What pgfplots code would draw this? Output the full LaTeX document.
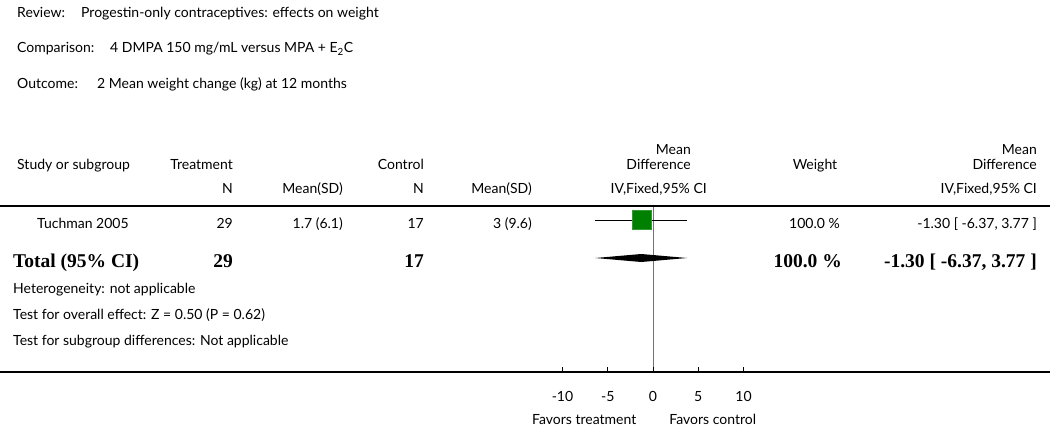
\documentclass[border=0pt]{standalone}
\usepackage{fontspec}
\setmainfont{Lato}
\newfontfamily\boldserif{Liberation Serif}
\usepackage{pgfplots}
\pgfplotsset{compat=1.18}
\definecolor{boxgreen}{RGB}{0,128,0}

\begin{document}
\begin{tikzpicture}[
  every node/.style={font=\fontsize{14}{16}\selectfont, inner sep=0pt},
  tot/.style={font=\boldserif\bfseries\fontsize{19.5}{22}\selectfont},
]
\begin{axis}[
  name=ax,
  scale only axis,
  width=1050pt, height=426pt,
  xmin=-72.155, xmax=43.87,
  ymin=0, ymax=426,
  y dir=reverse,
  axis lines=none,
  clip=false,
]
% line of no effect
\draw[black!55, line width=0.8pt] (0,206) -- (0,372);
% Tuchman 2005
\addplot[black, line width=0.8pt] coordinates {(-6.37,220) (3.77,220)};
\addplot[only marks, mark=square*, mark size=9.5pt,
  mark options={fill=boxgreen, draw=boxgreen!80!white}] coordinates {(-1.30,220)};
\addplot[black, line width=0.5pt] coordinates {(-1.30,217.5) (-1.30,222.5)};
% pooled estimate
\addplot[fill=black, draw=none] coordinates {(-6.37,258) (-1.30,254) (3.77,258) (-1.30,262)} -- cycle;
% rules and scale
\draw[line width=2.6pt] (-72.155,206) -- (43.87,206);
\draw[line width=2.6pt] (-72.155,372) -- (43.87,372);
\pgfplotsinvokeforeach{-10,-5,0,5,10}{
  \draw[line width=1pt] (#1,372) -- (#1,367);
  \node[anchor=base] at (#1,401) {#1};
}
\node[anchor=base] at (-7.6,424) {Favors treatment};
\node[anchor=base] at (6.6,424) {Favors control};
\end{axis}

\begin{scope}[shift={(ax.north west)}, x=1pt, y=-1pt]
% header block
\node[anchor=base west] at (17,18) {Review:};
\node[anchor=base west] at (81,18) {Progestin-only contraceptives: effects on weight};
\node[anchor=base west] at (17,53) {Comparison:};
\node[anchor=base west] at (110,53) {4 DMPA 150 mg/mL versus MPA + E\textsubscript{2}C};
\node[anchor=base west] at (17,89) {Outcome:};
\node[anchor=base west] at (97,89) {2 Mean weight change (kg) at 12 months};
% column heads
\node[anchor=base east] at (691,155) {Mean};
\node[anchor=base east] at (1037,155) {Mean};
\node[anchor=base west] at (17,170) {Study or subgroup};
\node[anchor=base east] at (233,170) {Treatment};
\node[anchor=base east] at (424,170) {Control};
\node[anchor=base east] at (691,170) {Difference};
\node[anchor=base] at (815,170) {Weight};
\node[anchor=base east] at (1037,170) {Difference};
\node[anchor=base east] at (233,194) {N};
\node[anchor=base east] at (343,194) {Mean(SD)};
\node[anchor=base east] at (424,194) {N};
\node[anchor=base east] at (532,194) {Mean(SD)};
\node[anchor=base east] at (707,194) {IV,Fixed,95\% CI};
\node[anchor=base east] at (1037,194) {IV,Fixed,95\% CI};
% study row
\node[anchor=base west] at (37,229) {Tuchman 2005};
\node[anchor=base east] at (233,229) {29};
\node[anchor=base east] at (343,229) {1.7 (6.1)};
\node[anchor=base east] at (424,229) {17};
\node[anchor=base east] at (532,229) {3 (9.6)};
\node[anchor=base east] at (840,229) {100.0 \%};
\node[anchor=base east] at (1037,229) {-1.30 [ -6.37, 3.77 ]};
% total row
\node[tot, anchor=base west] at (13,268) {Total (95\% CI)};
\node[tot, anchor=base east] at (233,268) {29};
\node[tot, anchor=base east] at (424,268) {17};
\node[tot, anchor=base east] at (842,268) {100.0 \%};
\node[tot, anchor=base east] at (1037,268) {-1.30 [ -6.37, 3.77 ]};
% notes
\node[anchor=base west] at (13,294) {Heterogeneity: not applicable};
\node[anchor=base west] at (13,320) {Test for overall effect: Z = 0.50 (P = 0.62)};
\node[anchor=base west] at (13,346) {Test for subgroup differences: Not applicable};
\pgfresetboundingbox
\useasboundingbox (0,0) rectangle (1050,426);
\end{scope}
\end{tikzpicture}
\end{document}
